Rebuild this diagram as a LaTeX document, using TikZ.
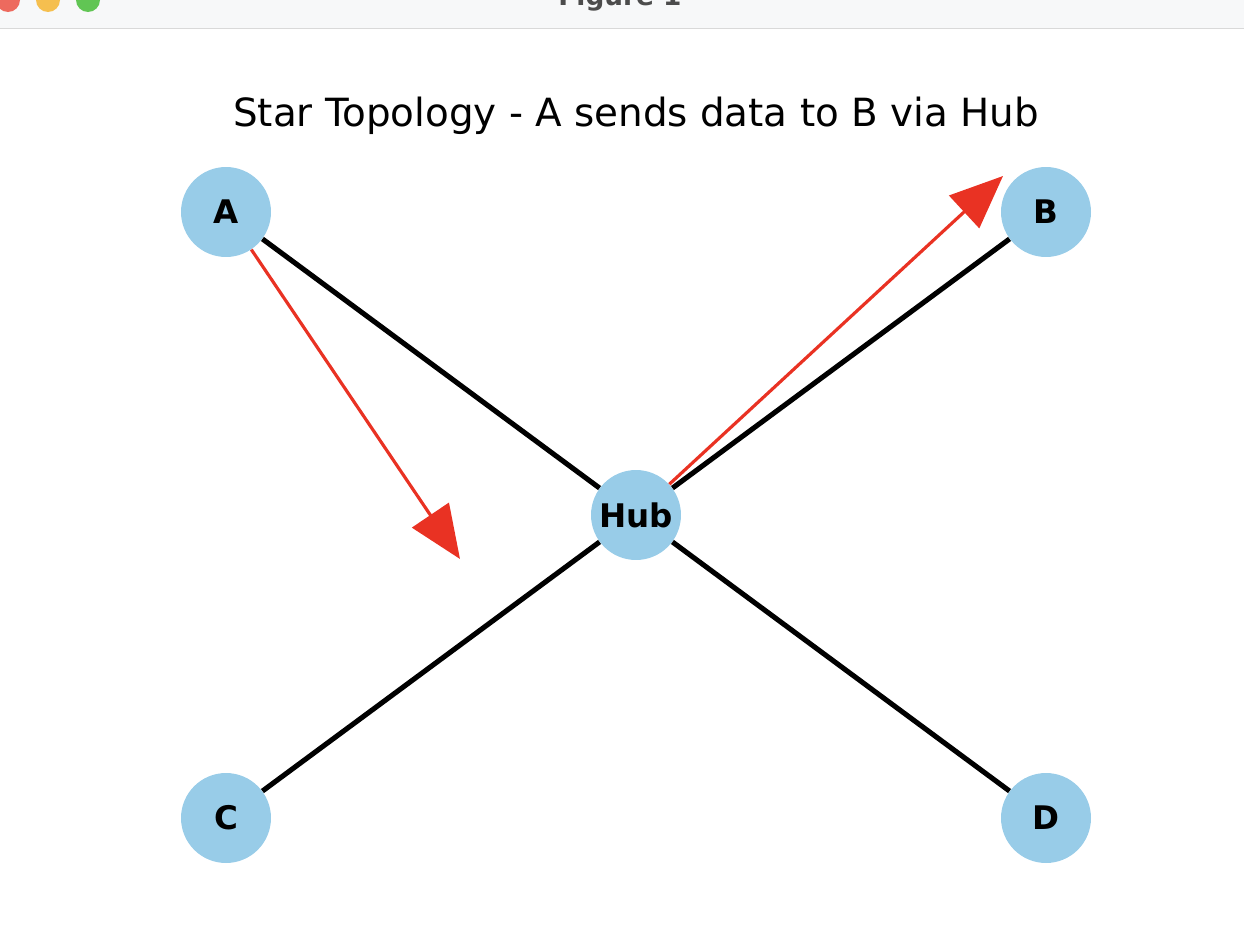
\documentclass[tikz,border=0pt]{standalone}
\usepackage{fontspec}
\setmainfont{DejaVu Sans}
\usetikzlibrary{arrows.meta}

\definecolor{nodeblue}{RGB}{152,204,232}
\definecolor{flowred}{RGB}{233,50,35}
\definecolor{barbg}{RGB}{247,248,249}
\definecolor{lightred}{RGB}{237,106,94}
\definecolor{lightyellow}{RGB}{245,191,79}
\definecolor{lightgreen}{RGB}{97,197,84}

\begin{document}
\begin{tikzpicture}[x=0.02cm,y=-0.02cm,
    station/.style={circle, fill=nodeblue, minimum size=1.8cm, inner sep=0pt,
        font=\fontsize{18.5}{20}\selectfont\bfseries},
    link/.style={line width=2.9pt, black},
    flow/.style={line width=1.8pt, flowred, -{Triangle[length=1.06cm,width=0.88cm]}}]
    \def\r{12}

    % Рамка и окно
    \useasboundingbox (0,0) rectangle (1244,930);
    \clip (0,0) rectangle (1244,930);
    \fill[barbg] (0,0) rectangle (1244,28);
    \draw[black!15, line width=1pt] (0,28.5) -- (1244,28.5);
    \fill[lightred] (8,0) circle (\r);
    \fill[lightyellow] (48,0) circle (\r);
    \fill[lightgreen] (88,0) circle (\r);
    \node[black!70, font=\fontsize{15}{16}\selectfont\bfseries] (bar) at (620,-2) {Figure 1};

    % Заголовок
    \node[font=\fontsize{22.1}{24}\selectfont] (title) at (636,116) {Star Topology - A sends data to B via Hub};

    % Узлы
    \node[station] (hub) at (636,515) {Hub};
    \node[station] (A) at (226,212) {A};
    \node[station] (B) at (1046,212) {B};
    \node[station] (C) at (226,818) {C};
    \node[station] (D) at (1046,818) {D};

    % Связи
    \foreach \n in {A,B,C,D}
        \draw[link] (hub) -- (\n);

    % Передача данных
    \coordinate (tipA) at (460,559);
    \coordinate (tipB) at (1003,176);
    \draw[flow] (A) -- (tipA);
    \draw[flow] (hub) -- (tipB);

\end{tikzpicture}
\end{document}
